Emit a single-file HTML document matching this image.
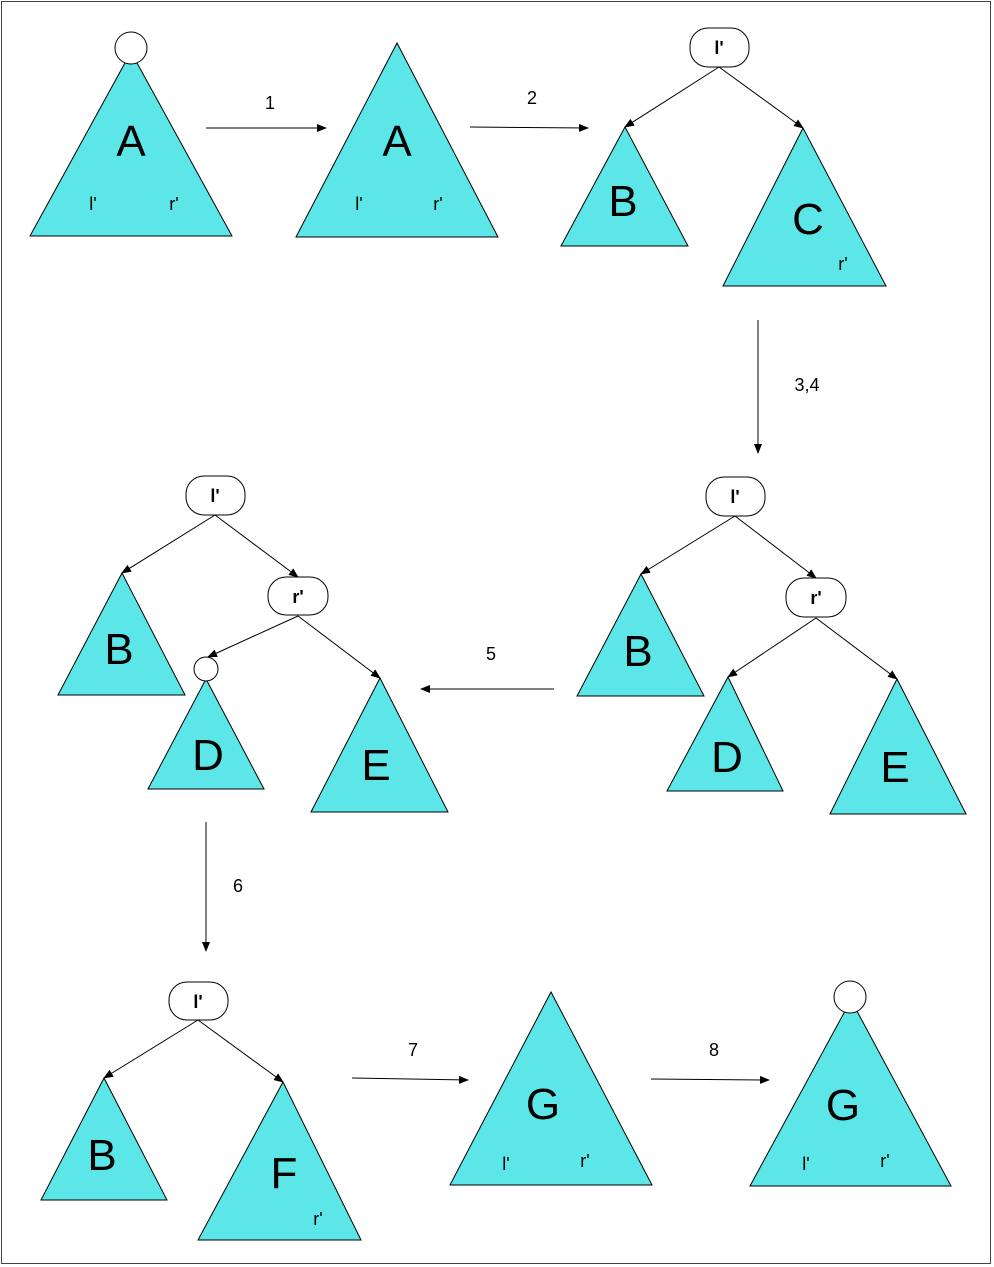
<!DOCTYPE html>
<html><head><meta charset="utf-8"><style>
html,body{margin:0;padding:0;background:#fff}
svg{display:block;font-family:"Liberation Sans",Arial,sans-serif}
</style></head><body>
<svg width="994" height="1267" viewBox="0 0 994 1267">
<defs><marker id="ah" markerWidth="10" markerHeight="8" refX="9" refY="4" orient="auto" markerUnits="userSpaceOnUse"><path d="M0,0 L10,4 L0,8 z" fill="#000"/></marker></defs>
<rect x="1.5" y="1.5" width="989" height="1262" fill="#fff" stroke="#444" stroke-width="1"/>
<g fill="#5ce6e8" stroke="#000" stroke-width="1">
<polygon points="131,52 30,236 232,236"/>
<polygon points="397,43 296,237 498,237"/>
<polygon points="625,127 561,246 688,246"/>
<polygon points="803,128 723,286 886,286"/>
<polygon points="641,574 577,696 704,696"/>
<polygon points="728,677 667,791 783,791"/>
<polygon points="897,679 830,814 966,814"/>
<polygon points="122,573 58,695 185,695"/>
<polygon points="206,679 148,789 264,789"/>
<polygon points="380,678 311,812 448,812"/>
<polygon points="104,1078 41,1200 167,1200"/>
<polygon points="283,1082 198,1240 361,1240"/>
<polygon points="551,992 450,1185 652,1185"/>
<polygon points="851,1000 750,1186 951,1186"/>
</g>
<g fill="#fff" stroke="#000" stroke-width="1">
<circle cx="131" cy="48" r="16"/>
<circle cx="206" cy="669" r="12"/>
<circle cx="850" cy="997" r="16"/>
</g>
<g stroke="#000" stroke-width="1" marker-end="url(#ah)">
<line x1="719" y1="67" x2="625" y2="127"/><line x1="719" y1="67" x2="803" y2="128"/>
<line x1="735" y1="516" x2="641" y2="574"/><line x1="735" y1="516" x2="816" y2="578"/>
<line x1="816" y1="618" x2="728" y2="677"/><line x1="816" y1="618" x2="897" y2="679"/>
<line x1="215" y1="515" x2="122" y2="573"/><line x1="215" y1="515" x2="298" y2="577"/>
<line x1="298" y1="616" x2="208" y2="657"/><line x1="298" y1="616" x2="380" y2="678"/>
<line x1="198" y1="1020" x2="104" y2="1078"/><line x1="198" y1="1020" x2="283" y2="1082"/>
<line x1="206" y1="128" x2="326" y2="128"/>
<line x1="470" y1="127" x2="588" y2="128"/>
<line x1="758" y1="320" x2="758" y2="453"/>
<line x1="554" y1="689" x2="421" y2="689"/>
<line x1="206" y1="822" x2="206" y2="951"/>
<line x1="352" y1="1078" x2="468" y2="1080"/>
<line x1="651" y1="1079" x2="769" y2="1080"/>
</g>
<g fill="#fff" stroke="#000" stroke-width="1">
<rect x="690" y="28" width="59" height="39" rx="18"/>
<rect x="706" y="477" width="59" height="39" rx="18"/>
<rect x="786" y="578" width="60" height="39" rx="18"/>
<rect x="186" y="476" width="59" height="39" rx="18"/>
<rect x="268" y="577" width="60" height="38" rx="18"/>
<rect x="169" y="982" width="59" height="38" rx="18"/>
</g>
<g font-size="18" font-weight="bold" text-anchor="middle">
<text x="719" y="54">l'</text><text x="735" y="503">l'</text><text x="816" y="604">r'</text>
<text x="215" y="502">l'</text><text x="298" y="603">r'</text><text x="198" y="1008">l'</text>
</g>
<g font-size="44" text-anchor="middle">
<text x="131" y="156">A</text><text x="397" y="156">A</text>
<text x="623" y="216">B</text><text x="808" y="234">C</text>
<text x="638" y="666">B</text><text x="727" y="772">D</text><text x="895" y="782">E</text>
<text x="119" y="664">B</text><text x="208" y="770">D</text><text x="376" y="780">E</text>
<text x="102" y="1170">B</text><text x="284" y="1188">F</text>
<text x="543" y="1119">G</text><text x="843" y="1120">G</text>
</g>
<g font-size="18" text-anchor="middle">
<text x="93" y="210">l'</text><text x="174" y="210">r'</text>
<text x="359" y="210">l'</text><text x="438" y="210">r'</text>
<text x="843" y="270">r'</text><text x="318" y="1225">r'</text>
<text x="506" y="1170">l'</text><text x="585" y="1167">r'</text>
<text x="806" y="1170">l'</text><text x="885" y="1167">r'</text>
<text x="270" y="109">1</text><text x="532" y="104">2</text>
<text x="807" y="391">3,4</text><text x="491" y="660">5</text>
<text x="238" y="892">6</text><text x="413" y="1056">7</text><text x="714" y="1056">8</text>
</g>
</svg>
</body></html>
